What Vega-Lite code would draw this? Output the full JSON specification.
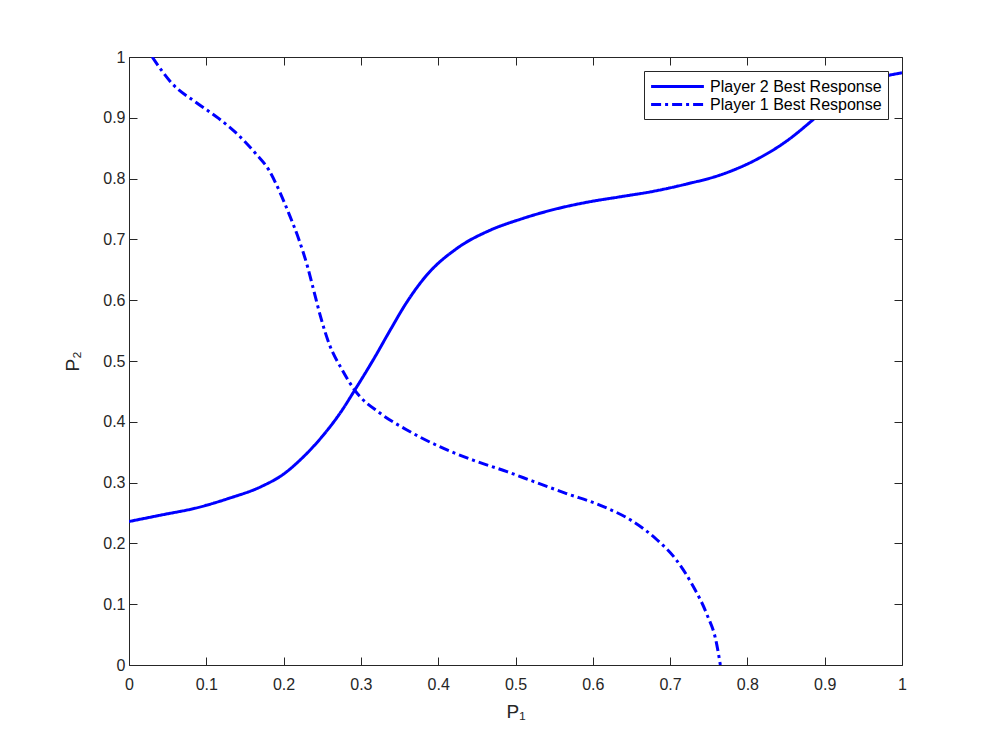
{
  "$schema": "https://vega.github.io/schema/vega-lite/v6.json",
  "width": 773,
  "height": 608,
  "autosize": {"type": "none"},
  "padding": {"left": 129, "top": 57, "right": 95, "bottom": 82},
  "background": "white",
  "config": {
    "font": "Liberation Sans",
    "view": {"stroke": null},
    "axis": {
      "grid": false,
      "domainColor": "#262626",
      "domainWidth": 1,
      "tickColor": "#262626",
      "tickSize": -8,
      "tickWidth": 1,
      "labelColor": "#262626",
      "labelFontSize": 16,
      "labelFont": "Liberation Sans",
      "titleFont": "Liberation Sans",
      "titleFontSize": 19,
      "titleFontWeight": "normal",
      "titleColor": "#262626",
      "format": ".1~f"
    }
  },
  "data": {
    "values": [
      {"s": "Player 2 Best Response", "o": 0, "p1": 0.0, "p2": 0.236},
      {"s": "Player 2 Best Response", "o": 1, "p1": 0.043, "p2": 0.247},
      {"s": "Player 2 Best Response", "o": 2, "p1": 0.086, "p2": 0.258},
      {"s": "Player 2 Best Response", "o": 3, "p1": 0.129, "p2": 0.274},
      {"s": "Player 2 Best Response", "o": 4, "p1": 0.172, "p2": 0.294},
      {"s": "Player 2 Best Response", "o": 5, "p1": 0.2, "p2": 0.314},
      {"s": "Player 2 Best Response", "o": 6, "p1": 0.222, "p2": 0.338},
      {"s": "Player 2 Best Response", "o": 7, "p1": 0.25, "p2": 0.376},
      {"s": "Player 2 Best Response", "o": 8, "p1": 0.274, "p2": 0.416},
      {"s": "Player 2 Best Response", "o": 9, "p1": 0.292, "p2": 0.452},
      {"s": "Player 2 Best Response", "o": 10, "p1": 0.316, "p2": 0.502},
      {"s": "Player 2 Best Response", "o": 11, "p1": 0.338, "p2": 0.551},
      {"s": "Player 2 Best Response", "o": 12, "p1": 0.359, "p2": 0.596},
      {"s": "Player 2 Best Response", "o": 13, "p1": 0.385, "p2": 0.641},
      {"s": "Player 2 Best Response", "o": 14, "p1": 0.424, "p2": 0.685},
      {"s": "Player 2 Best Response", "o": 15, "p1": 0.467, "p2": 0.715},
      {"s": "Player 2 Best Response", "o": 16, "p1": 0.506, "p2": 0.733},
      {"s": "Player 2 Best Response", "o": 17, "p1": 0.549, "p2": 0.749},
      {"s": "Player 2 Best Response", "o": 18, "p1": 0.592, "p2": 0.761},
      {"s": "Player 2 Best Response", "o": 19, "p1": 0.635, "p2": 0.77},
      {"s": "Player 2 Best Response", "o": 20, "p1": 0.678, "p2": 0.779},
      {"s": "Player 2 Best Response", "o": 21, "p1": 0.721, "p2": 0.791},
      {"s": "Player 2 Best Response", "o": 22, "p1": 0.765, "p2": 0.806},
      {"s": "Player 2 Best Response", "o": 23, "p1": 0.808, "p2": 0.829},
      {"s": "Player 2 Best Response", "o": 24, "p1": 0.851, "p2": 0.862},
      {"s": "Player 2 Best Response", "o": 25, "p1": 0.885, "p2": 0.897},
      {"s": "Player 2 Best Response", "o": 26, "p1": 0.911, "p2": 0.926},
      {"s": "Player 2 Best Response", "o": 27, "p1": 0.937, "p2": 0.949},
      {"s": "Player 2 Best Response", "o": 28, "p1": 0.963, "p2": 0.963},
      {"s": "Player 2 Best Response", "o": 29, "p1": 1.0, "p2": 0.974},
      {"s": "Player 1 Best Response", "o": 0, "p1": 0.03, "p2": 1.0},
      {"s": "Player 1 Best Response", "o": 1, "p1": 0.056, "p2": 0.956},
      {"s": "Player 1 Best Response", "o": 2, "p1": 0.086, "p2": 0.926},
      {"s": "Player 1 Best Response", "o": 3, "p1": 0.116, "p2": 0.899},
      {"s": "Player 1 Best Response", "o": 4, "p1": 0.142, "p2": 0.871},
      {"s": "Player 1 Best Response", "o": 5, "p1": 0.164, "p2": 0.841},
      {"s": "Player 1 Best Response", "o": 6, "p1": 0.181, "p2": 0.814},
      {"s": "Player 1 Best Response", "o": 7, "p1": 0.194, "p2": 0.781},
      {"s": "Player 1 Best Response", "o": 8, "p1": 0.207, "p2": 0.742},
      {"s": "Player 1 Best Response", "o": 9, "p1": 0.22, "p2": 0.699},
      {"s": "Player 1 Best Response", "o": 10, "p1": 0.231, "p2": 0.655},
      {"s": "Player 1 Best Response", "o": 11, "p1": 0.239, "p2": 0.616},
      {"s": "Player 1 Best Response", "o": 12, "p1": 0.248, "p2": 0.572},
      {"s": "Player 1 Best Response", "o": 13, "p1": 0.259, "p2": 0.528},
      {"s": "Player 1 Best Response", "o": 14, "p1": 0.276, "p2": 0.485},
      {"s": "Player 1 Best Response", "o": 15, "p1": 0.292, "p2": 0.452},
      {"s": "Player 1 Best Response", "o": 16, "p1": 0.325, "p2": 0.414},
      {"s": "Player 1 Best Response", "o": 17, "p1": 0.359, "p2": 0.387},
      {"s": "Player 1 Best Response", "o": 18, "p1": 0.402, "p2": 0.359},
      {"s": "Player 1 Best Response", "o": 19, "p1": 0.445, "p2": 0.337},
      {"s": "Player 1 Best Response", "o": 20, "p1": 0.489, "p2": 0.318},
      {"s": "Player 1 Best Response", "o": 21, "p1": 0.523, "p2": 0.302},
      {"s": "Player 1 Best Response", "o": 22, "p1": 0.566, "p2": 0.282},
      {"s": "Player 1 Best Response", "o": 23, "p1": 0.609, "p2": 0.263},
      {"s": "Player 1 Best Response", "o": 24, "p1": 0.652, "p2": 0.236},
      {"s": "Player 1 Best Response", "o": 25, "p1": 0.683, "p2": 0.206},
      {"s": "Player 1 Best Response", "o": 26, "p1": 0.708, "p2": 0.173},
      {"s": "Player 1 Best Response", "o": 27, "p1": 0.73, "p2": 0.129},
      {"s": "Player 1 Best Response", "o": 28, "p1": 0.747, "p2": 0.085},
      {"s": "Player 1 Best Response", "o": 29, "p1": 0.76, "p2": 0.036},
      {"s": "Player 1 Best Response", "o": 30, "p1": 0.765, "p2": 0.0}
    ]
  },
  "layer": [
    {
      "mark": {"type": "line", "color": "#0000ff", "strokeWidth": 3, "clip": true, "interpolate": "monotone"},
      "encoding": {
        "x": {"field": "p1", "type": "quantitative", "scale": {"domain": [0, 1], "nice": false, "zero": false},
          "axis": {"orient": "bottom", "values": [0,0.1,0.2,0.3,0.4,0.5,0.6,0.7,0.8,0.9,1], "title": "P₁", "labelPadding": 19, "titlePadding": 10, "labelFlush": false}},
        "y": {"field": "p2", "type": "quantitative", "scale": {"domain": [0, 1], "nice": false, "zero": false},
          "axis": {"orient": "left", "values": [0,0.1,0.2,0.3,0.4,0.5,0.6,0.7,0.8,0.9,1], "title": "P₂", "labelPadding": 12, "titlePadding": 20, "labelFlush": false}},
        "detail": {"field": "s"},
        "order": {"field": "o", "type": "quantitative"},
        "strokeDash": {
          "field": "s", "type": "nominal",
          "scale": {"domain": ["Player 2 Best Response", "Player 1 Best Response"], "range": [[1, 0], [10, 4, 3, 4]]},
          "legend": {
            "title": null,
            "orient": "top-right",
            "offset": 14,
            "symbolType": "M-3.3,0H3.3",
            "symbolStrokeColor": "#0000ff",
            "symbolStrokeWidth": 3,
            "symbolSize": 256,
            "symbolOffset": 18,
            "labelFontSize": 16,
            "labelFont": "Liberation Sans",
            "labelColor": "#000000",
            "labelLimit": 400,
            "strokeColor": "#262626",
            "fillColor": "white",
            "padding": 6,
            "rowPadding": 0,
            "labelOffset": 23
          }
        }
      }
    },
    {
      "mark": {"type": "line", "opacity": 0},
      "encoding": {
        "x": {"field": "p1", "type": "quantitative", "scale": {"domain": [0, 1], "nice": false, "zero": false},
          "axis": {"orient": "top", "values": [0,0.1,0.2,0.3,0.4,0.5,0.6,0.7,0.8,0.9,1], "labels": false, "title": null}},
        "y": {"field": "p2", "type": "quantitative", "scale": {"domain": [0, 1], "nice": false, "zero": false},
          "axis": {"orient": "right", "values": [0,0.1,0.2,0.3,0.4,0.5,0.6,0.7,0.8,0.9,1], "labels": false, "title": null}},
        "detail": {"field": "s"},
        "order": {"field": "o", "type": "quantitative"}
      }
    }
  ],
  "resolve": {"axis": {"x": "independent", "y": "independent"}}
}
